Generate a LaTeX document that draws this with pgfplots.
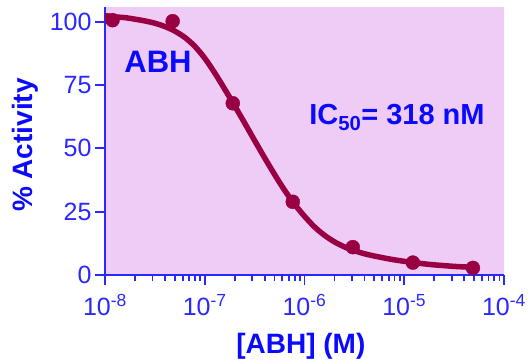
\documentclass[border=0pt]{standalone}
\usepackage{pgfplots}
\pgfplotsset{compat=1.18}
\usepackage{fontspec}
\setmainfont{Liberation Sans}
\definecolor{axblue}{RGB}{40,40,255}
\definecolor{txtblue}{RGB}{10,10,255}
\definecolor{bgviolet}{RGB}{238,204,245}
\definecolor{curvecol}{RGB}{153,0,68}
\begin{document}
\begin{tikzpicture}
\begin{axis}[
  scale only axis, width=399pt, height=268pt,
  xmode=log, xmin=1e-8, xmax=1e-4, ymin=0, ymax=105.8,
  axis x line*=bottom, axis y line*=left,
  x axis line style={-}, y axis line style={-},
  axis line style={axblue, line width=2pt},
  every tick/.style={axblue, line width=1.8pt},
  tick align=outside,
  major tick length=10pt, minor tick length=6pt,
  xtick={1e-8,1e-7,1e-6,1e-5,1e-4},
  xticklabels={10\textsuperscript{-8},10\textsuperscript{-7},10\textsuperscript{-6},10\textsuperscript{-5},10\textsuperscript{-4}},
  ytick={0,25,50,75,100},
  yticklabels={0,25,50,75,100},
  tick label style={font=\fontsize{25}{30}\selectfont, text=axblue},
  xticklabel style={yshift=-6pt},
  xlabel={[ABH] (M)}, ylabel={\% Activity},
  every axis x label/.style={at={(axis description cs:0.491,-0.265)}, anchor=center},
  every axis y label/.style={at={(axis description cs:-0.2005,0.485)}, rotate=90, anchor=center},
  label style={font=\bfseries\fontsize{28}{32}\selectfont, text=txtblue},
  axis background/.style={fill=bgviolet},
]
\addplot[curvecol, line width=5.5pt, smooth, no marks] coordinates {
(1e-8,102.4) (1.2589e-8,101.9) (1.5849e-8,101.6) (1.9953e-8,101.0)
(2.5119e-8,100.3) (3.1623e-8,99.4) (3.9811e-8,98.1) (5.0119e-8,96.3)
(6.3096e-8,93.8) (7.9433e-8,90.3) (1e-7,85.6) (1.2589e-7,79.8)
(1.5849e-7,73.4) (1.9953e-7,66.8) (2.5119e-7,60.0) (3.1623e-7,53.1)
(3.9811e-7,46.3) (5.0119e-7,39.7) (6.3096e-7,33.5) (7.9433e-7,28.0)
(1e-6,23.2) (1.2589e-6,19.0) (1.5849e-6,15.7) (1.9953e-6,13.1)
(2.5119e-6,11.1) (3.1623e-6,9.6) (3.9811e-6,8.4) (5.0119e-6,7.5)
(6.3096e-6,6.7) (7.9433e-6,6.0) (1e-5,5.4) (1.2589e-5,4.9)
(1.5849e-5,4.4) (1.9953e-5,4.0) (2.5119e-5,3.7) (3.1623e-5,3.4)
(3.9811e-5,3.2) (4.88e-5,3.0)
};
\addplot[only marks, mark=*, mark size=7pt, curvecol] coordinates {
(1.19e-8,100.6) (4.77e-8,100.2) (1.91e-7,67.8) (7.63e-7,28.9)
(3.05e-6,11.0) (1.22e-5,4.9) (4.88e-5,2.8)
};
\node[font=\bfseries\fontsize{31}{36}\selectfont, text=txtblue] at (axis cs:3.40e-8,84.0) {ABH};
\node[font=\bfseries\fontsize{29}{34}\selectfont, text=txtblue] at (axis cs:8.45e-6,62.3) {IC\textsubscript{50}= 318 nM};
\coordinate (bl) at (rel axis cs:0,0);
\coordinate (tr) at (rel axis cs:1,1);
\end{axis}
\pgfresetboundingbox
\path[use as bounding box] ([xshift=-105pt,yshift=-85pt]bl) rectangle ([xshift=25pt,yshift=7pt]tr);
\end{tikzpicture}
\end{document}
